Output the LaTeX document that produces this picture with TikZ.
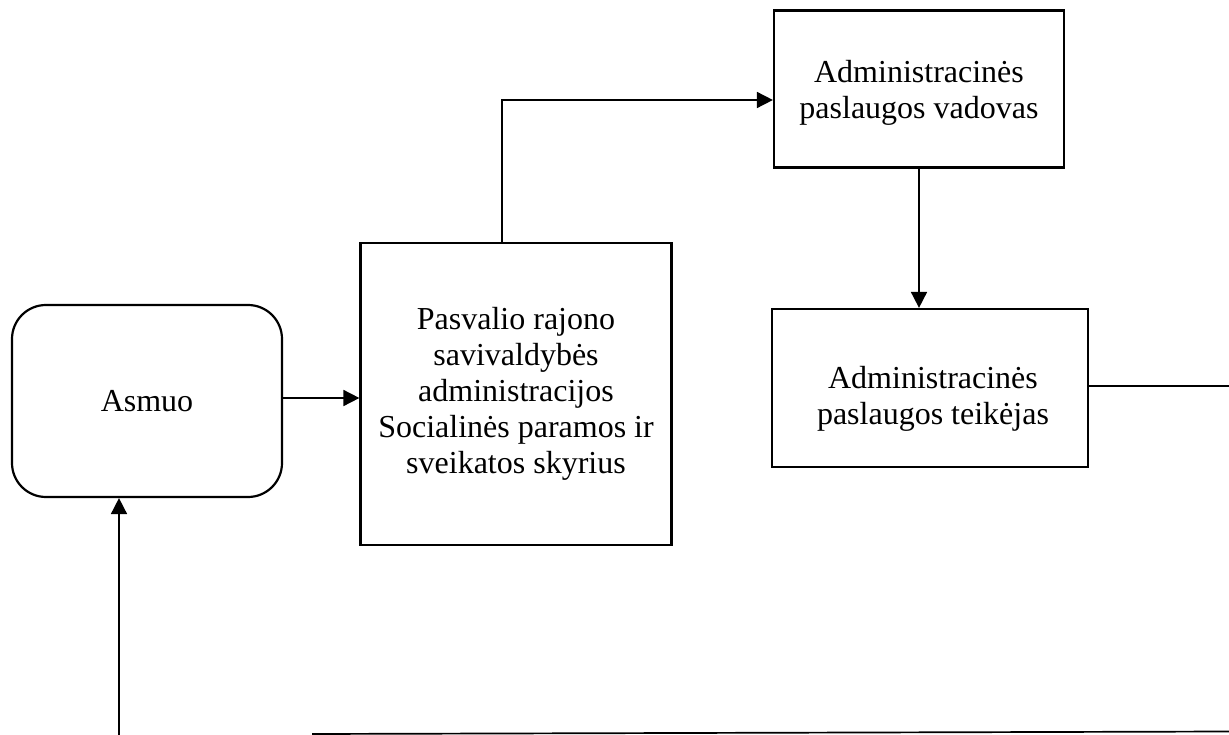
\documentclass[tikz,border=0pt]{standalone}
\usepackage{fontspec}
\setmainfont{Liberation Serif}
\usetikzlibrary{arrows.meta}
\begin{document}
\begin{tikzpicture}[x=1pt,y=-1pt,
  box/.style={draw, line width=2.2pt, align=center, inner sep=0pt,
    font=\fontsize{32}{36}\selectfont},
  txt/.style={align=center, inner sep=0pt, font=\fontsize{32}{36}\selectfont},
  conn/.style={line width=1.7pt, -{Triangle[length=16pt,width=16pt]}},
  plain/.style={line width=1.7pt}]
\useasboundingbox (0,0) rectangle (1229,735);
\node[box, rounded corners=34pt, minimum width=270pt, minimum height=192pt] (asmuo) at (147,401) {Asmuo};
\node[box, minimum width=311pt, minimum height=302pt] (pasv) at (516,394)
  {Pasvalio rajono\\savivaldybės\\administracijos\\Socialinės paramos ir\\sveikatos skyrius};
\node[box, minimum width=290pt, minimum height=157pt,
  label={[txt, yshift=-4pt]center:{Administracinės\\paslaugos vadovas}}] (vad) at (919,89) {};
\node[box, minimum width=316pt, minimum height=158pt,
  label={[txt, yshift=-11pt, xshift=3pt]center:{Administracinės\\paslaugos teikėjas}}] (teik) at (930,388) {};
\coordinate (tend) at (1229,386);
\coordinate (b1) at (312,734);
\coordinate (b2) at (1229,731.5);
\coordinate (up) at (119,735);
\draw[conn] ([yshift=3pt]asmuo.east) -- ([yshift=3pt]asmuo.east -| pasv.west);
\draw[conn] ([xshift=-14pt]pasv.north) |- ([yshift=-11pt]vad.west);
\draw[conn] (vad.south) -- (vad.south |- teik.north);
\draw[plain] ([yshift=2pt]teik.east) -- (tend);
\draw[plain] (b1) -- (b2);
\draw[conn] (up) -- (up |- asmuo.south);
\end{tikzpicture}
\end{document}
